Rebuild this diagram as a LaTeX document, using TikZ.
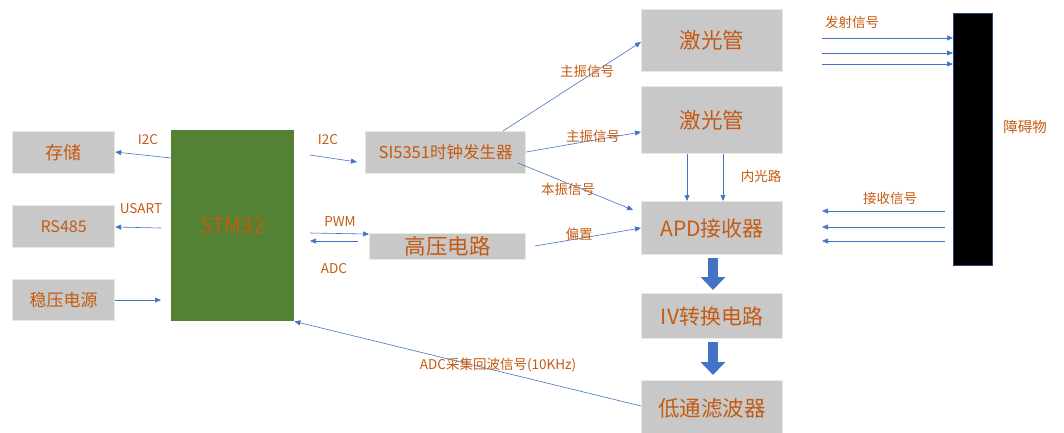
\documentclass[tikz,border=0pt]{standalone}
\usepackage{fontspec}
\setmainfont{Noto Sans CJK SC}
\usetikzlibrary{arrows.meta}
\definecolor{otxt}{HTML}{C55A11}
\definecolor{gfill}{HTML}{C8C8C8}
\definecolor{gedge}{HTML}{E2EDD9}
\definecolor{stmg}{HTML}{548235}
\definecolor{ablue}{HTML}{4472C4}
\tikzset{
  box/.style={draw=gedge, line width=1.2pt, fill=gfill, text=otxt, inner sep=0pt, anchor=north west},
  con/.style={draw=ablue, line width=0.6pt, -{Triangle[length=6pt,width=5pt]}},
  lbl/.style={text=otxt, font=\fontsize{13.5}{15}\selectfont, inner sep=0pt},
  big/.style={draw=ablue, line width=10pt, -{Triangle[length=13pt,width=24pt]}}
}
\begin{document}
\begin{tikzpicture}[x=1pt,y=-1pt]
\useasboundingbox (0,0) rectangle (1064,432);
% boxes
\node[box, minimum width=102pt, minimum height=42pt, font=\fontsize{18}{20}\selectfont] (cc) at (12,131) {存储};
\node[box, minimum width=102pt, minimum height=42pt, font=\fontsize{16}{18}\selectfont] (rs) at (12,205) {RS485};
\node[box, minimum width=102pt, minimum height=41pt, font=\fontsize{17}{19}\selectfont] (wy) at (12,279) {稳压电源};
\node[draw=none, fill=stmg, text=otxt, inner sep=0pt, anchor=north west, minimum width=123pt, minimum height=191pt, font=\fontsize{21}{23}\selectfont] (stm) at (171,130) {STM32};
\node[box, minimum width=160pt, minimum height=42pt, font=\fontsize{16.5}{18}\selectfont] (si) at (365,131) {SI5351时钟发生器};
\node[box, minimum width=156pt, minimum height=26pt, font=\fontsize{21.5}{22}\selectfont] (hv) at (369,233) {高压电路};
\node[box, minimum width=141pt, minimum height=62pt, font=\fontsize{21.5}{23}\selectfont] (lz1) at (641,9) {激光管};
\node[box, minimum width=141pt, minimum height=67pt, font=\fontsize{21.5}{23}\selectfont] (lz2) at (641,86) {激光管};
\node[box, minimum width=141pt, minimum height=53pt, font=\fontsize{21}{23}\selectfont] (apd) at (641,201) {APD接收器};
\node[box, minimum width=141pt, minimum height=45pt, font=\fontsize{21}{23}\selectfont] (iv) at (641,293) {IV转换电路};
\node[box, minimum width=141pt, minimum height=56pt, font=\fontsize{21.5}{23}\selectfont] (lp) at (641,380) {低通滤波器};
\node[draw=ablue!60!black, fill=black, line width=1pt, anchor=north west, minimum width=39pt, minimum height=252pt, inner sep=0pt] (obs) at (953,13) {};
\node[lbl, font=\fontsize{14.5}{16}\selectfont] (obsl) at (1025,127) {障碍物};
% STM32 side connectors
\coordinate (a1) at (171,158); \draw[con] (a1) -- (cc.east |- 0,152);
\node[lbl] (l1) at (148,140) {I2C};
\coordinate (a2) at (161,228); \draw[con] (a2) -- (rs.east |- 0,227);
\node[lbl] (l2) at (141,209) {USART};
\coordinate (a3) at (161,300); \draw[con] (wy.east |- 0,300) -- (a3);
\coordinate (a4) at (310,155); \coordinate (a4e) at (357,162); \draw[con] (a4) -- (a4e);
\node[lbl] (l4) at (328,140) {I2C};
\coordinate (a5) at (310,233); \draw[con] (a5) -- (hv.west |- 0,234);
\coordinate (a6) at (358,241); \coordinate (a6e) at (310,241); \draw[con] (a6) -- (a6e);
\node[lbl] (l5) at (340,222) {PWM};
\node[lbl] (l6) at (334,269) {ADC};
% SI5351 outputs
\coordinate (s1) at (503,131);
\draw[con] (s1) -- (lz1.west |- 0,42);
\node[lbl] (l7) at (587,71) {主振信号};
\draw[con] (si.east |- 0,152) -- (lz2.west |- 0,132);
\node[lbl] (l8) at (593,136) {主振信号};
\coordinate (s3) at (518,163); \coordinate (s3e) at (633,210);
\draw[con] (s3) -- (s3e);
\node[lbl] (l9) at (568,189) {本振信号};
\coordinate (h1) at (535,246);
\draw[con] (h1) -- (apd.west |- 0,228);
\node[lbl] (l10) at (579,234) {偏置};
% inner light path
\coordinate (x1) at (687,0); \coordinate (x2) at (723,0);
\draw[con] (x1 |- lz2.south) -- (x1 |- apd.north);
\draw[con] (x2 |- lz2.south) -- (x2 |- apd.north);
\node[lbl] (l11) at (761,176) {内光路};
% big arrows
\coordinate (b1s) at (713,258); \coordinate (b1e) at (713,290);
\coordinate (b2s) at (713,342); \coordinate (b2e) at (713,375);
\draw[big] (b1s) -- (b1e);
\draw[big] (b2s) -- (b2e);
% ADC return
\draw[con] (lp.west |- 0,406) -- (stm.south east);
\node[lbl] (l12) at (498,365) {ADC采集回波信号(10KHz)};
% emit / receive
\foreach \y in {38,53,64} {\coordinate (e\y) at (822,\y); \draw[con] (e\y) -- (obs.west |- e\y);}
\node[lbl] (l13) at (852,22) {发射信号};
\foreach \y in {211,227,241} {\coordinate (r\y) at (945,\y); \coordinate (q\y) at (822,\y); \draw[con] (r\y) -- (q\y);}
\node[lbl] (l14) at (890,198) {接收信号};
\end{tikzpicture}
\end{document}
